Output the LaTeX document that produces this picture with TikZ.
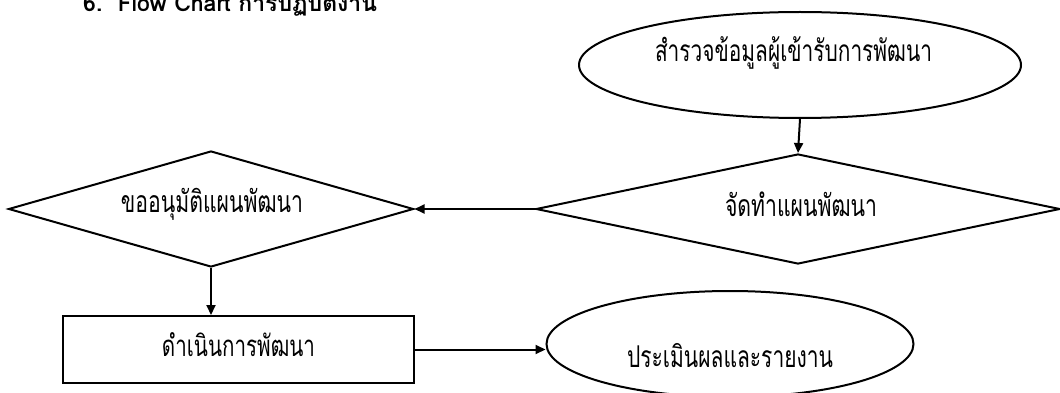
\documentclass[tikz,border=0pt]{standalone}
\usepackage{fontspec}
\usepackage{graphicx}
\setmainfont{Loma}[Script=Thai]
\newfontfamily\thaifont[Script=Thai,FakeStretch=0.7]{Loma}
\usetikzlibrary{shapes.geometric,arrows.meta}
\newcommand{\fitw}[2]{\resizebox{#1}{!}{#2}}
\begin{document}
\begin{tikzpicture}[x=1pt,y=-1pt,
  shapeline/.style={draw=black,line width=2pt,inner sep=0pt},
  ell/.style={shapeline,ellipse},
  dia/.style={shapeline,diamond},
  box/.style={shapeline,rectangle},
  lbl/.style={font=\thaifont\fontsize{24}{24}\selectfont,inner sep=0pt,anchor=base},
  conn/.style={line width=2pt,-{Triangle[length=10pt,width=9pt]}}]
\useasboundingbox (0,0) rectangle (1060,393);
\node[anchor=base west,inner sep=0pt,font=\bfseries\fontsize{22}{24}\selectfont] (title) at (83,12) {\fitw{294pt}{6.\ \ Flow Chart การปฏิบัติงาน}};
\node[ell,minimum width=442pt,minimum height=106pt] (survey) at (800,65) {};
\node[lbl] (surveyt) at (793.5,62) {\fitw{277pt}{สำรวจข้อมูลผู้เข้ารับการพัฒนา}};
\node[dia,minimum width=524pt,minimum height=110pt] (plan) at (798,209) {};
\node[lbl] (plant) at (801,216) {\fitw{152pt}{จัดทำแผนพัฒนา}};
\node[dia,minimum width=405pt,minimum height=116pt] (approve) at (211,209) {};
\node[lbl] (approvet) at (212,212) {\fitw{182pt}{ขออนุมัติแผนพัฒนา}};
\node[box,minimum width=351pt,minimum height=67pt] (do) at (238.5,349.5) {};
\node[lbl] (dot) at (238.5,356) {\fitw{153pt}{ดำเนินการพัฒนา}};
\node[ell,minimum width=367pt,minimum height=106pt] (eval) at (730,344) {};
\node[lbl] (evalt) at (730,367) {\fitw{206pt}{ประเมินผลและรายงาน}};
\draw[conn] (survey.south) -- (plan.north);
\draw[conn] (plan.west) -- (approve.east);
\draw[conn] (approve.south) -- (approve.south |- do.north);
\draw[conn] (do.east) -- (do.east -| eval.west);
\end{tikzpicture}
\end{document}
